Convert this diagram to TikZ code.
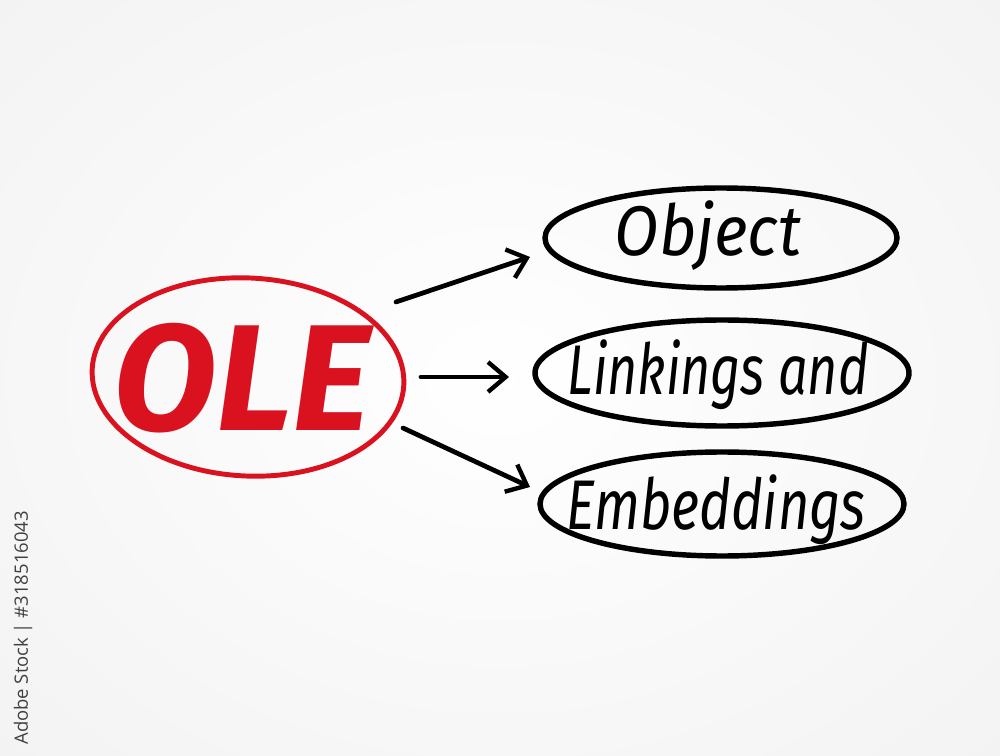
\documentclass[tikz,border=0pt]{standalone}
\usetikzlibrary{arrows.meta}
\usepackage{fontspec}
\setmainfont{Fira Sans}
\newfontfamily\idfont{Open Sans}
\definecolor{olered}{HTML}{DA1220}
\definecolor{bgedge}{HTML}{E6E6E6}
\begin{document}
\begin{tikzpicture}[x=0.02cm,y=-0.02cm,
  blackoval/.style={draw=black,line width=3.1pt},
  conn/.style={draw=black,line width=2.7pt,line cap=round,-{Straight Barb[length=10pt,width=17pt,line width=2.5pt]}},
  hand/.style={font=\itshape\fontsize{40}{44}\selectfont,text=black},
]
\useasboundingbox (0,0) rectangle (1000,756);
\shade[inner color=white,outer color=bgedge] (-250,-200) rectangle (1250,956);
\fill[white,opacity=0.5] (0,0) rectangle (1000,756);
% red OLE
\draw[olered,line width=2.8pt,rotate around={-3:(248,377)}] (248,377) ellipse [x radius=156,y radius=99];
\node[text=olered,font=\itshape\bfseries\fontsize{86}{90}\selectfont] (ole) at (242,378) {OLE};
% black ovals
\draw[blackoval] (721,238) ellipse [x radius=176,y radius=50];
\draw[blackoval] (722,373) ellipse [x radius=187,y radius=53];
\draw[blackoval] (722,504) ellipse [x radius=182,y radius=52];
\node[hand,xscale=0.92] (obj) at (708,236) {Object};
\node[hand,xscale=0.74] (link) at (718,375) {Linkings and};
\node[hand,xscale=0.77] (emb) at (716,510) {Embeddings};
% arrows
\coordinate (a1s) at (396,302);
\coordinate (a1e) at (530,257);
\coordinate (a2s) at (421,377);
\coordinate (a2e) at (509,377);
\coordinate (a3s) at (403,428);
\coordinate (a3e) at (530,487);
\draw[conn] (a1s) -- (a1e);
\draw[conn] (a2s) -- (a2e);
\draw[conn] (a3s) -- (a3e);
% stock id
\node[rotate=90,anchor=west,inner sep=0pt,text=black!75,font=\idfont\fontsize{10.5}{13}\selectfont] (sid) at (23,745) {Adobe Stock | \#318516043};
\end{tikzpicture}
\end{document}
